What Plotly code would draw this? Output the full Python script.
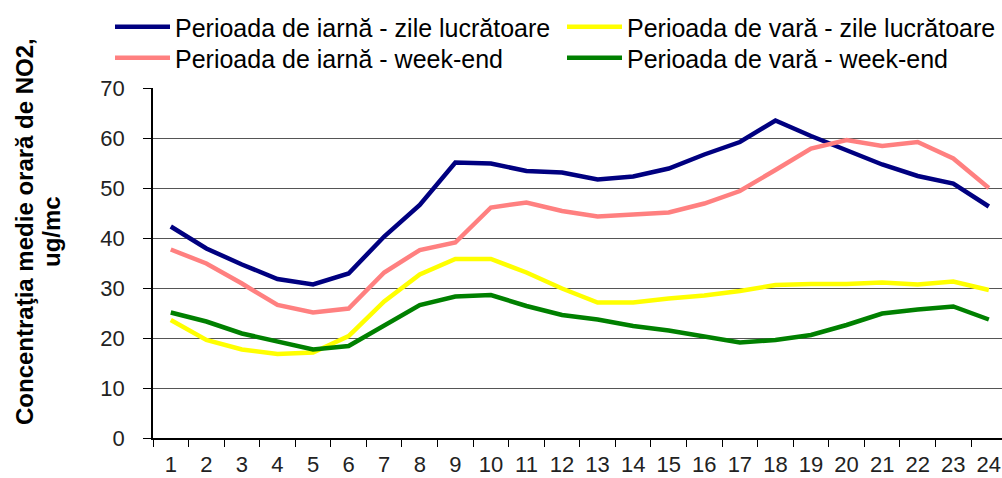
import plotly.graph_objects as go

hours = [str(h) for h in range(1, 25)]

iarna_lucr = [42.3, 37.9, 34.7, 31.8, 30.7, 32.9, 40.3, 46.6, 55.1, 54.9, 53.4, 53.1,
              51.7, 52.3, 53.9, 56.7, 59.2, 63.5, 60.4, 57.6, 54.7, 52.4, 50.9, 46.3]
vara_lucr = [23.6, 19.6, 17.7, 16.8, 17.1, 20.4, 27.3, 32.7, 35.8, 35.8, 33.1, 29.9,
             27.1, 27.1, 27.9, 28.5, 29.4, 30.6, 30.8, 30.8, 31.1, 30.7, 31.3, 29.6]
iarna_we = [37.7, 34.9, 30.9, 26.6, 25.1, 25.9, 33.1, 37.6, 39.1, 46.1, 47.1, 45.4,
            44.3, 44.6, 45.1, 46.9, 49.4, 53.6, 57.9, 59.6, 58.4, 59.2, 55.9, 50.0]
vara_we = [25.1, 23.3, 20.9, 19.3, 17.7, 18.4, 22.4, 26.6, 28.3, 28.6, 26.4, 24.6,
           23.7, 22.4, 21.5, 20.4, 19.1, 19.6, 20.6, 22.6, 24.9, 25.7, 26.3, 23.7]

names = ["Perioada de iarnă - zile lucrătoare", "Perioada de vară - zile lucrătoare",
         "Perioada de iarnă - week-end", "Perioada de vară - week-end"]
colors = ["#000080", "#FFFF00", "#FF8080", "#008000"]
series = [iarna_lucr, vara_lucr, iarna_we, vara_we]
legend_ids = ["legend", "legend2", "legend3", "legend4"]

fig = go.Figure()
for nm, col, vals, lg in zip(names, colors, series, legend_ids):
    fig.add_trace(go.Scatter(x=hours, y=vals, name=nm, mode="lines", legend=lg,
                             line=dict(color=col, width=4.5)))

W, H = 1002, 478
L, T, B = 153, 88, 40
PW, PH = W - L, H - T - B

font_family = "Liberation Sans, Arial, sans-serif"


def leg(x_px, top_px):
    return dict(orientation="v", xref="container", yref="container",
                x=x_px / W, y=1 - top_px / H, xanchor="left", yanchor="top",
                itemwidth=55,
                font=dict(size=25, color="#000000", family=font_family),
                bgcolor="rgba(0,0,0,0)")


fig.update_layout(
    width=W, height=H,
    margin=dict(l=L, r=0, t=T, b=B, autoexpand=False),
    paper_bgcolor="white", plot_bgcolor="white",
    font=dict(family=font_family, size=20, color="#222222"),
    showlegend=True,
    legend=leg(110, 4),
    legend2=leg(562, 4),
    legend3=leg(110, 35),
    legend4=leg(562, 35),
    xaxis=dict(type="category", range=[-0.5, 23.37], automargin=False,
               showline=True, linecolor="black", linewidth=1.5,
               ticks="outside", tickson="boundaries", ticklen=7, tickcolor="black",
               ticklabelstandoff=6, tickangle=0,
               showgrid=False, tickfont=dict(size=22, color="#222222")),
    yaxis=dict(range=[0, 70], dtick=10, automargin=False,
               showline=True, linecolor="black", linewidth=1.5,
               ticks="outside", ticklen=8, tickcolor="black", ticklabelstandoff=14,
               showgrid=True, gridcolor="#555555", gridwidth=1,
               zeroline=False, tickfont=dict(size=22, color="#222222")),
    annotations=[
        dict(text="<b>Concentraţia medie orară de NO2,</b>",
             xref="paper", yref="paper", x=(24 - L) / PW, y=(H - B - 232) / PH,
             xanchor="center", yanchor="middle", textangle=-90, showarrow=False,
             font=dict(size=24, color="#000000", family=font_family)),
        dict(text="<b>ug/mc</b>",
             xref="paper", yref="paper", x=(51 - L) / PW, y=(H - B - 232) / PH,
             xanchor="center", yanchor="middle", textangle=-90, showarrow=False,
             font=dict(size=24, color="#000000", family=font_family)),
    ],
)

fig.write_html("out.html", config={"displayModeBar": False},
               post_script="document.body.style.margin='0';document.body.style.overflow='hidden';")
